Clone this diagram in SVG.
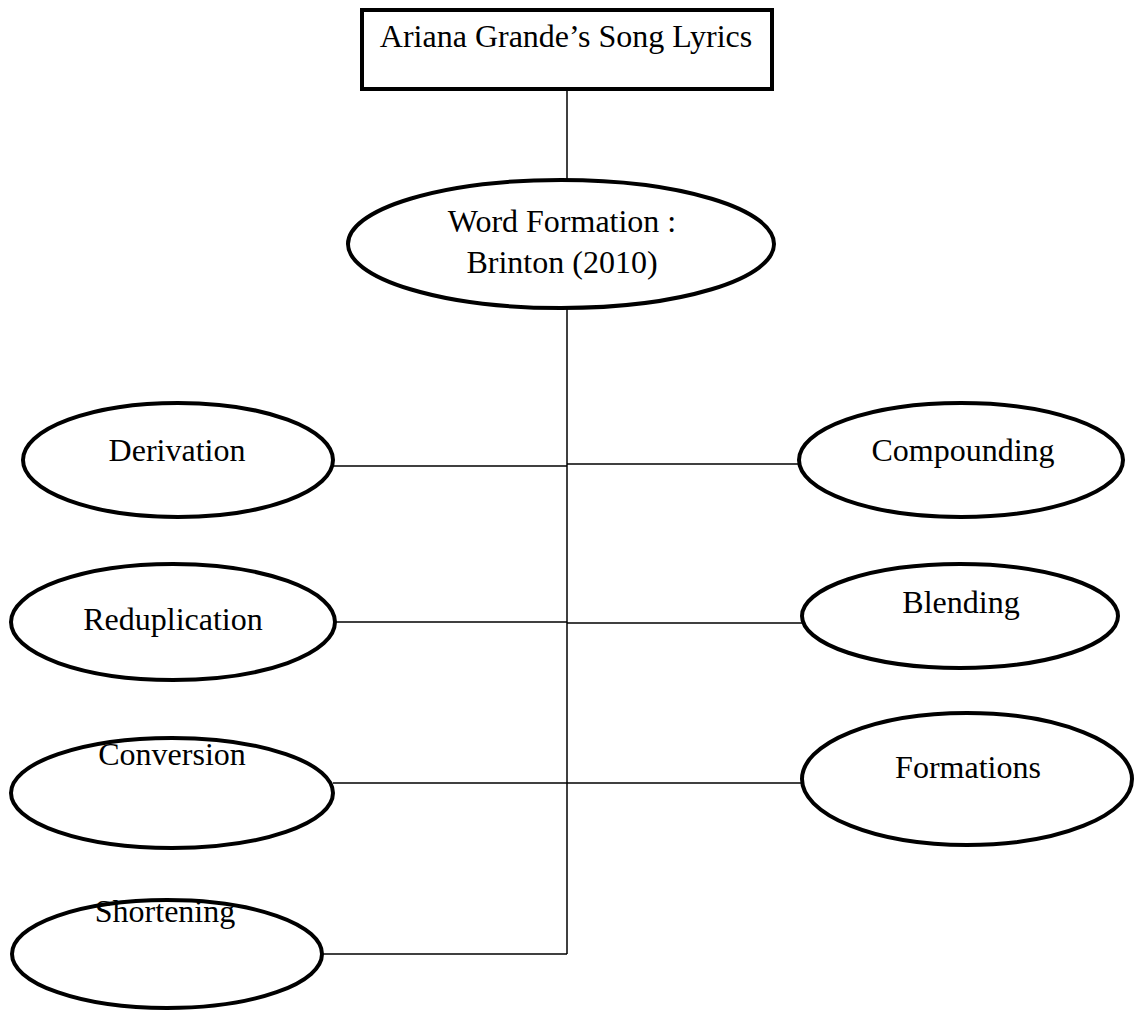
<svg xmlns="http://www.w3.org/2000/svg" width="1138" height="1010" viewBox="0 0 1138 1010">
<style>
.n{fill:#fff;stroke:#000;stroke-width:4}
.t{font-family:"Liberation Serif","Times New Roman",serif;font-size:32px;fill:#000;text-anchor:middle}
.c{stroke:#000;stroke-width:1.5;fill:none}
</style>
<rect width="1138" height="1010" fill="#fff"/>
<g id="connectors">
<line class="c" x1="567" y1="89" x2="567" y2="179"/>
<line class="c" x1="567" y1="308" x2="567" y2="954"/>
<line class="c" x1="333" y1="466" x2="567" y2="466"/>
<line class="c" x1="567" y1="464" x2="800" y2="464"/>
<line class="c" x1="335" y1="622" x2="567" y2="622"/>
<line class="c" x1="567" y1="623" x2="803" y2="623"/>
<line class="c" x1="333" y1="783" x2="567" y2="783"/>
<line class="c" x1="567" y1="783" x2="803" y2="783"/>
<line class="c" x1="322" y1="954" x2="567" y2="954"/>
</g>
<g id="root">
<rect class="n" x="362" y="10" width="410" height="79"/>
<text class="t" x="566" y="47">Ariana Grande’s Song Lyrics</text>
</g>
<g id="word-formation">
<ellipse class="n" cx="561" cy="244" rx="213" ry="64"/>
<text class="t" x="562" y="232">Word Formation :</text>
<text class="t" x="562" y="273">Brinton (2010)</text>
</g>
<g id="derivation">
<ellipse class="n" cx="178" cy="460" rx="155" ry="57"/>
<text class="t" x="177" y="461">Derivation</text>
</g>
<g id="compounding">
<ellipse class="n" cx="961" cy="460" rx="162" ry="57"/>
<text class="t" x="963" y="461">Compounding</text>
</g>
<g id="reduplication">
<ellipse class="n" cx="173" cy="622" rx="162" ry="58"/>
<text class="t" x="173" y="630">Reduplication</text>
</g>
<g id="blending">
<ellipse class="n" cx="960" cy="616" rx="158" ry="52"/>
<text class="t" x="961" y="613">Blending</text>
</g>
<g id="conversion">
<ellipse class="n" cx="172" cy="793" rx="161" ry="55"/>
<text class="t" x="172" y="765">Conversion</text>
</g>
<g id="formations">
<ellipse class="n" cx="967" cy="779" rx="165" ry="66"/>
<text class="t" x="968" y="778">Formations</text>
</g>
<g id="shortening">
<ellipse class="n" cx="167" cy="954" rx="155" ry="54"/>
<text class="t" x="165" y="922">Shortening</text>
</g>
</svg>
